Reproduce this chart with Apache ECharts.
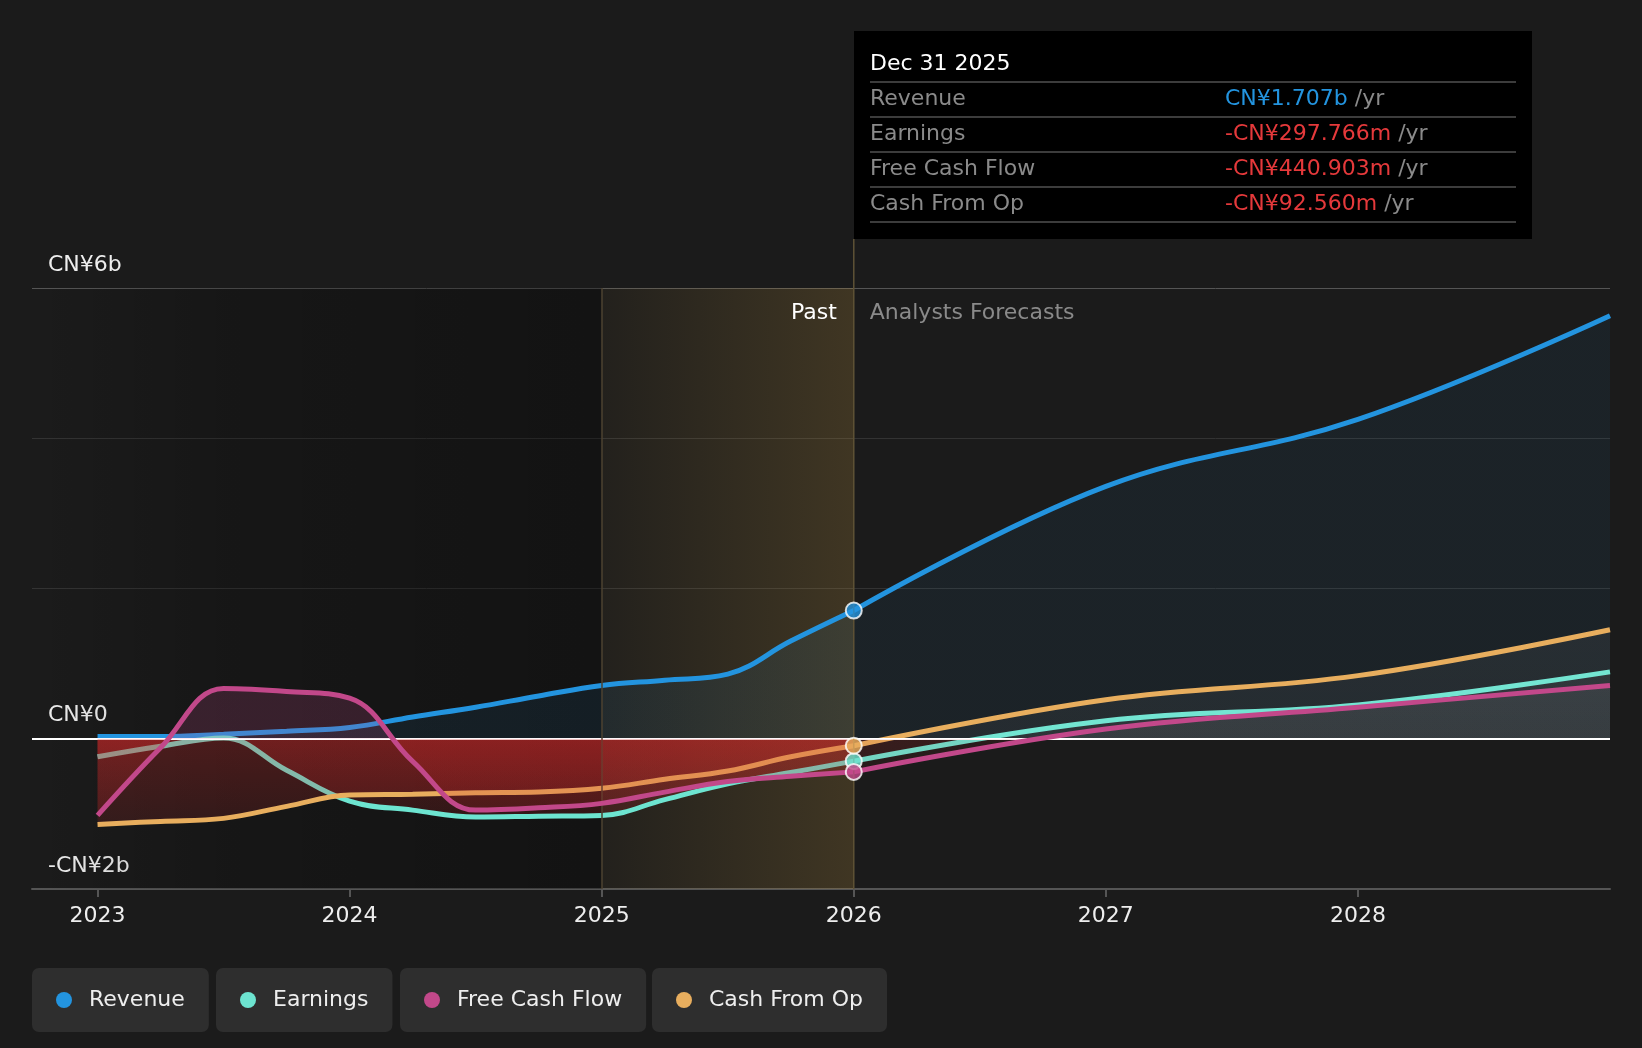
<!DOCTYPE html>
<html>
<head>
<meta charset="utf-8">
<script src="https://cdn.jsdelivr.net/npm/echarts@6/dist/echarts.min.js"></script>
<style>
  html, body { margin: 0; padding: 0; background: #1b1b1b; }
  #chart { width: 1642px; height: 1048px; }
</style>
</head>
<body>
<div id="chart"></div>
<script>
// years (past quarterly, forecast yearly), values in CN¥ billions
var years = [2023, 2023.25, 2023.5, 2023.75, 2024, 2024.25, 2024.5, 2024.75, 2025, 2025.25, 2025.5, 2025.75, 2026, 2027, 2028, 2029]
var revenue = [0.03, 0.03, 0.06, 0.10, 0.15, 0.29, 0.42, 0.57, 0.71, 0.78, 0.86, 1.30, 1.707, 3.36, 4.25, 5.63]
var earnings = [-0.24, -0.10, 0.01, -0.42, -0.83, -0.95, -1.04, -1.03, -1.02, -0.81, -0.60, -0.45, -0.298, 0.24, 0.45, 0.89]
var freeCashFlow = [-1.02, -0.12, 0.67, 0.63, 0.54, -0.30, -0.95, -0.92, -0.86, -0.71, -0.57, -0.50, -0.441, 0.13, 0.42, 0.71]
var cashFromOp = [-1.14, -1.10, -1.06, -0.90, -0.75, -0.74, -0.72, -0.71, -0.66, -0.54, -0.43, -0.24, -0.093, 0.52, 0.84, 1.45]
var yearTicks = [2023, 2024, 2025, 2026, 2027, 2028]
var pastStart = 2025
var nowYear = 2026

var tipDate = 'Dec 31 2025'
var tipRows = [
  ['Revenue', 'CN¥1.707b', '#2394df'],
  ['Earnings', '-CN¥297.766m', '#e5393b'],
  ['Free Cash Flow', '-CN¥440.903m', '#e5393b'],
  ['Cash From Op', '-CN¥92.560m', '#e5393b']
]

var chart = echarts.init(document.getElementById('chart'), null, {renderer: 'canvas'})
var FONT = 'DejaVu Sans'
var FS = 22
var gridTop = 288
var gridBottom = 159
var pxTop = gridTop
var pxBottom = 1048 - gridBottom

var nowIdx = years.indexOf(nowYear)

const pairs = (vals, from, to) => {
  let out = []
  for (let i = from; i <= to; i++) out.push([years[i], vals[i]])
  return out
}

// fill that switches colour at the zero line (zero sits at 3/4 of the grid height)
const zeroFill = (posTop, posZero, negZero, negBottom) => {
  return new echarts.graphic.LinearGradient(0, pxTop, 0, pxBottom, [
    {offset: 0, color: posTop},
    {offset: 0.75, color: posZero},
    {offset: 0.75, color: negZero},
    {offset: 1, color: negBottom}
  ], true)
}

var pastRed = ['rgba(210,40,40,0.4)', 'rgba(200,40,40,0.07)']
var futRed = ['rgba(200,40,40,0.12)', 'rgba(200,40,40,0.04)']
var futGrey = ['rgba(255,255,255,0.13)', 'rgba(255,255,255,0.06)']

// z decides which fills lie over which lines
var metrics = [
  {name: 'Revenue', data: revenue, color: '#2394df', z: 2,
    past: zeroFill('rgba(35,148,223,0.12)', 'rgba(35,148,223,0.12)', pastRed[0], pastRed[1]),
    fut: zeroFill('rgba(35,148,223,0.09)', 'rgba(35,148,223,0.09)', futRed[0], futRed[1])},
  {name: 'Earnings', data: earnings, color: '#6de4d0', z: 3,
    past: zeroFill('rgba(109,228,208,0.2)', 'rgba(109,228,208,0.2)', pastRed[0], pastRed[1]),
    fut: zeroFill(futGrey[0], futGrey[1], futRed[0], futRed[1])},
  {name: 'Free Cash Flow', data: freeCashFlow, color: '#c2488a', z: 5,
    past: zeroFill('rgba(196,75,138,0.28)', 'rgba(196,75,138,0.28)', pastRed[0], pastRed[1]),
    fut: zeroFill(futGrey[0], futGrey[1], futRed[0], futRed[1])},
  {name: 'Cash From Op', data: cashFromOp, color: '#e8ae5e', z: 4,
    past: zeroFill('rgba(232,174,94,0.2)', 'rgba(232,174,94,0.2)', pastRed[0], pastRed[1]),
    fut: zeroFill(futGrey[0], futGrey[1], futRed[0], futRed[1])}
]

var series = []

// darker past background + zero line, below everything
series.push({
  type: 'line',
  data: [],
  z: 1,
  silent: true,
  markArea: {
    silent: true,
    itemStyle: {
      color: {type: 'linear', x: 0, y: 0, x2: 1, y2: 0, colorStops: [
        {offset: 0, color: 'rgba(0,0,0,0)'},
        {offset: 0.35, color: 'rgba(0,0,0,0.18)'},
        {offset: 1, color: 'rgba(0,0,0,0.3)'}
      ]}
    },
    data: [[{xAxis: 2022.74}, {xAxis: pastStart}]]
  },
  markLine: {
    silent: true,
    symbol: 'none',
    label: {show: false},
    lineStyle: {color: '#ffffff', width: 2, type: 'solid'},
    data: [{yAxis: 0}]
  }
})

metrics.forEach((m) => {
  series.push({
    name: m.name,
    type: 'line',
    z: m.z,
    smooth: 0.4,
    showSymbol: false,
    color: m.color,
    lineStyle: {width: 5, color: m.color},
    areaStyle: {color: m.past, origin: 0},
    data: pairs(m.data, 0, nowIdx)
  })
  series.push({
    name: m.name,
    type: 'line',
    z: m.z,
    smooth: 0.4,
    showSymbol: false,
    color: m.color,
    lineStyle: {width: 5, color: m.color},
    areaStyle: {color: m.fut, origin: 0},
    data: pairs(m.data, nowIdx, years.length - 1)
  })
})

// "past" band, drawn over the lines
series.push({
  type: 'line',
  data: [],
  z: 6,
  silent: true,
  markArea: {
    silent: true,
    itemStyle: {
      color: {type: 'linear', x: 0, y: 0, x2: 1, y2: 0, colorStops: [
        {offset: 0, color: 'rgba(180,140,60,0.05)'},
        {offset: 1, color: 'rgba(180,140,60,0.24)'}
      ]}
    },
    data: [[{xAxis: pastStart}, {xAxis: nowYear}]]
  },
  markLine: {
    silent: true,
    symbol: 'none',
    label: {show: false},
    lineStyle: {color: '#4d4230', width: 1.5, type: 'solid'},
    data: [{xAxis: pastStart}]
  }
})

// current-point markers
metrics.forEach((m) => {
  series.push({
    type: 'scatter',
    z: 10,
    symbol: 'circle',
    symbolSize: 16,
    itemStyle: {color: m.color, borderColor: '#ffffff', borderWidth: 2},
    data: [[years[nowIdx], m.data[nowIdx]]]
  })
})

var legendBox = (name, left) => {
  return {
    data: [name],
    left: left,
    top: 968,
    padding: [21, 24, 21, 24],
    backgroundColor: '#2e2e2e',
    borderRadius: 7,
    icon: 'circle',
    itemWidth: 16,
    itemHeight: 16,
    selectedMode: false,
    textStyle: {color: '#eeeeee', fontSize: FS, fontFamily: FONT, padding: [0, 0, 0, 12]}
  }
}

var option = {
  backgroundColor: '#1b1b1b',
  animation: false,
  grid: {left: 32, right: 32, top: gridTop, bottom: gridBottom, containLabel: false},
  legend: [
    legendBox('Revenue', 32),
    legendBox('Earnings', 216),
    legendBox('Free Cash Flow', 400),
    legendBox('Cash From Op', 652)
  ],
  xAxis: {
    type: 'value',
    min: 2022.74,
    max: 2029,
    splitLine: {show: false},
    axisLine: {onZero: false, lineStyle: {color: '#555555', width: 2}},
    axisTick: {show: true, length: 8, lineStyle: {color: '#555555', width: 2}, customValues: yearTicks},
    axisLabel: {
      color: '#eeeeee', fontSize: FS, fontFamily: FONT, margin: 16,
      customValues: yearTicks,
      formatter: (v) => String(Math.round(v))
    }
  },
  yAxis: {
    type: 'value',
    min: -2,
    max: 6,
    interval: 2,
    axisLine: {show: false},
    axisTick: {show: false},
    splitLine: {lineStyle: {color: ['#555555', 'rgba(0,0,0,0)', '#333333', '#333333', '#555555'], width: 1}},
    axisLabel: {
      inside: true,
      margin: 16,
      color: '#eeeeee',
      fontSize: FS,
      fontFamily: FONT,
      verticalAlign: 'bottom',
      padding: [0, 0, 12, 0],
      formatter: (v) => {
        if (v === 6) return 'CN¥6b'
        if (v === 0) return 'CN¥0'
        if (v === -2) return '-CN¥2b'
        return ''
      }
    }
  },
  series: series
}

chart.setOption(option)

// tooltip box, vertical "now" line and past/forecast captions
var nowX = chart.convertToPixel({xAxisIndex: 0}, nowYear)
var tipLeft = Math.round(nowX)
var tipTop = 31
var graphics = [
  {type: 'line', z: 7, shape: {x1: nowX, y1: tipTop + 208, x2: nowX, y2: pxBottom}, style: {stroke: '#5e5236', lineWidth: 1.5}},
  {type: 'rect', z: 20, shape: {x: tipLeft, y: tipTop, width: 678, height: 208}, style: {fill: '#000000'}},
  {type: 'text', z: 21, style: {x: tipLeft + 16, y: tipTop + 33, text: tipDate, fill: '#ffffff', font: FS + 'px ' + FONT, verticalAlign: 'middle'}},
  {type: 'text', z: 7, style: {x: nowX - 17, y: 313, text: 'Past', fill: '#ffffff', font: FS + 'px ' + FONT, align: 'right', verticalAlign: 'middle'}},
  {type: 'text', z: 7, style: {x: nowX + 16, y: 313, text: 'Analysts Forecasts', fill: '#8a8a8a', font: FS + 'px ' + FONT, verticalAlign: 'middle'}}
]
for (let i = 0; i <= tipRows.length; i++) {
  let ly = tipTop + 51 + i * 35
  graphics.push({type: 'line', z: 21, shape: {x1: tipLeft + 16, y1: ly, x2: tipLeft + 662, y2: ly}, style: {stroke: '#3c3c3c', lineWidth: 2}})
}
tipRows.forEach((r, i) => {
  let cy = tipTop + 68.5 + i * 35
  graphics.push({type: 'text', z: 21, style: {x: tipLeft + 16, y: cy, text: r[0], fill: '#8a8a8a', font: FS + 'px ' + FONT, verticalAlign: 'middle'}})
  graphics.push({type: 'text', z: 21, style: {
    x: tipLeft + 371, y: cy, verticalAlign: 'middle',
    text: '{v|' + r[1] + '}{u| /yr}',
    rich: {
      v: {fill: r[2], fontSize: FS, fontFamily: FONT},
      u: {fill: '#8a8a8a', fontSize: FS, fontFamily: FONT}
    }
  }})
})
chart.setOption({graphic: graphics})
</script>
</body>
</html>
